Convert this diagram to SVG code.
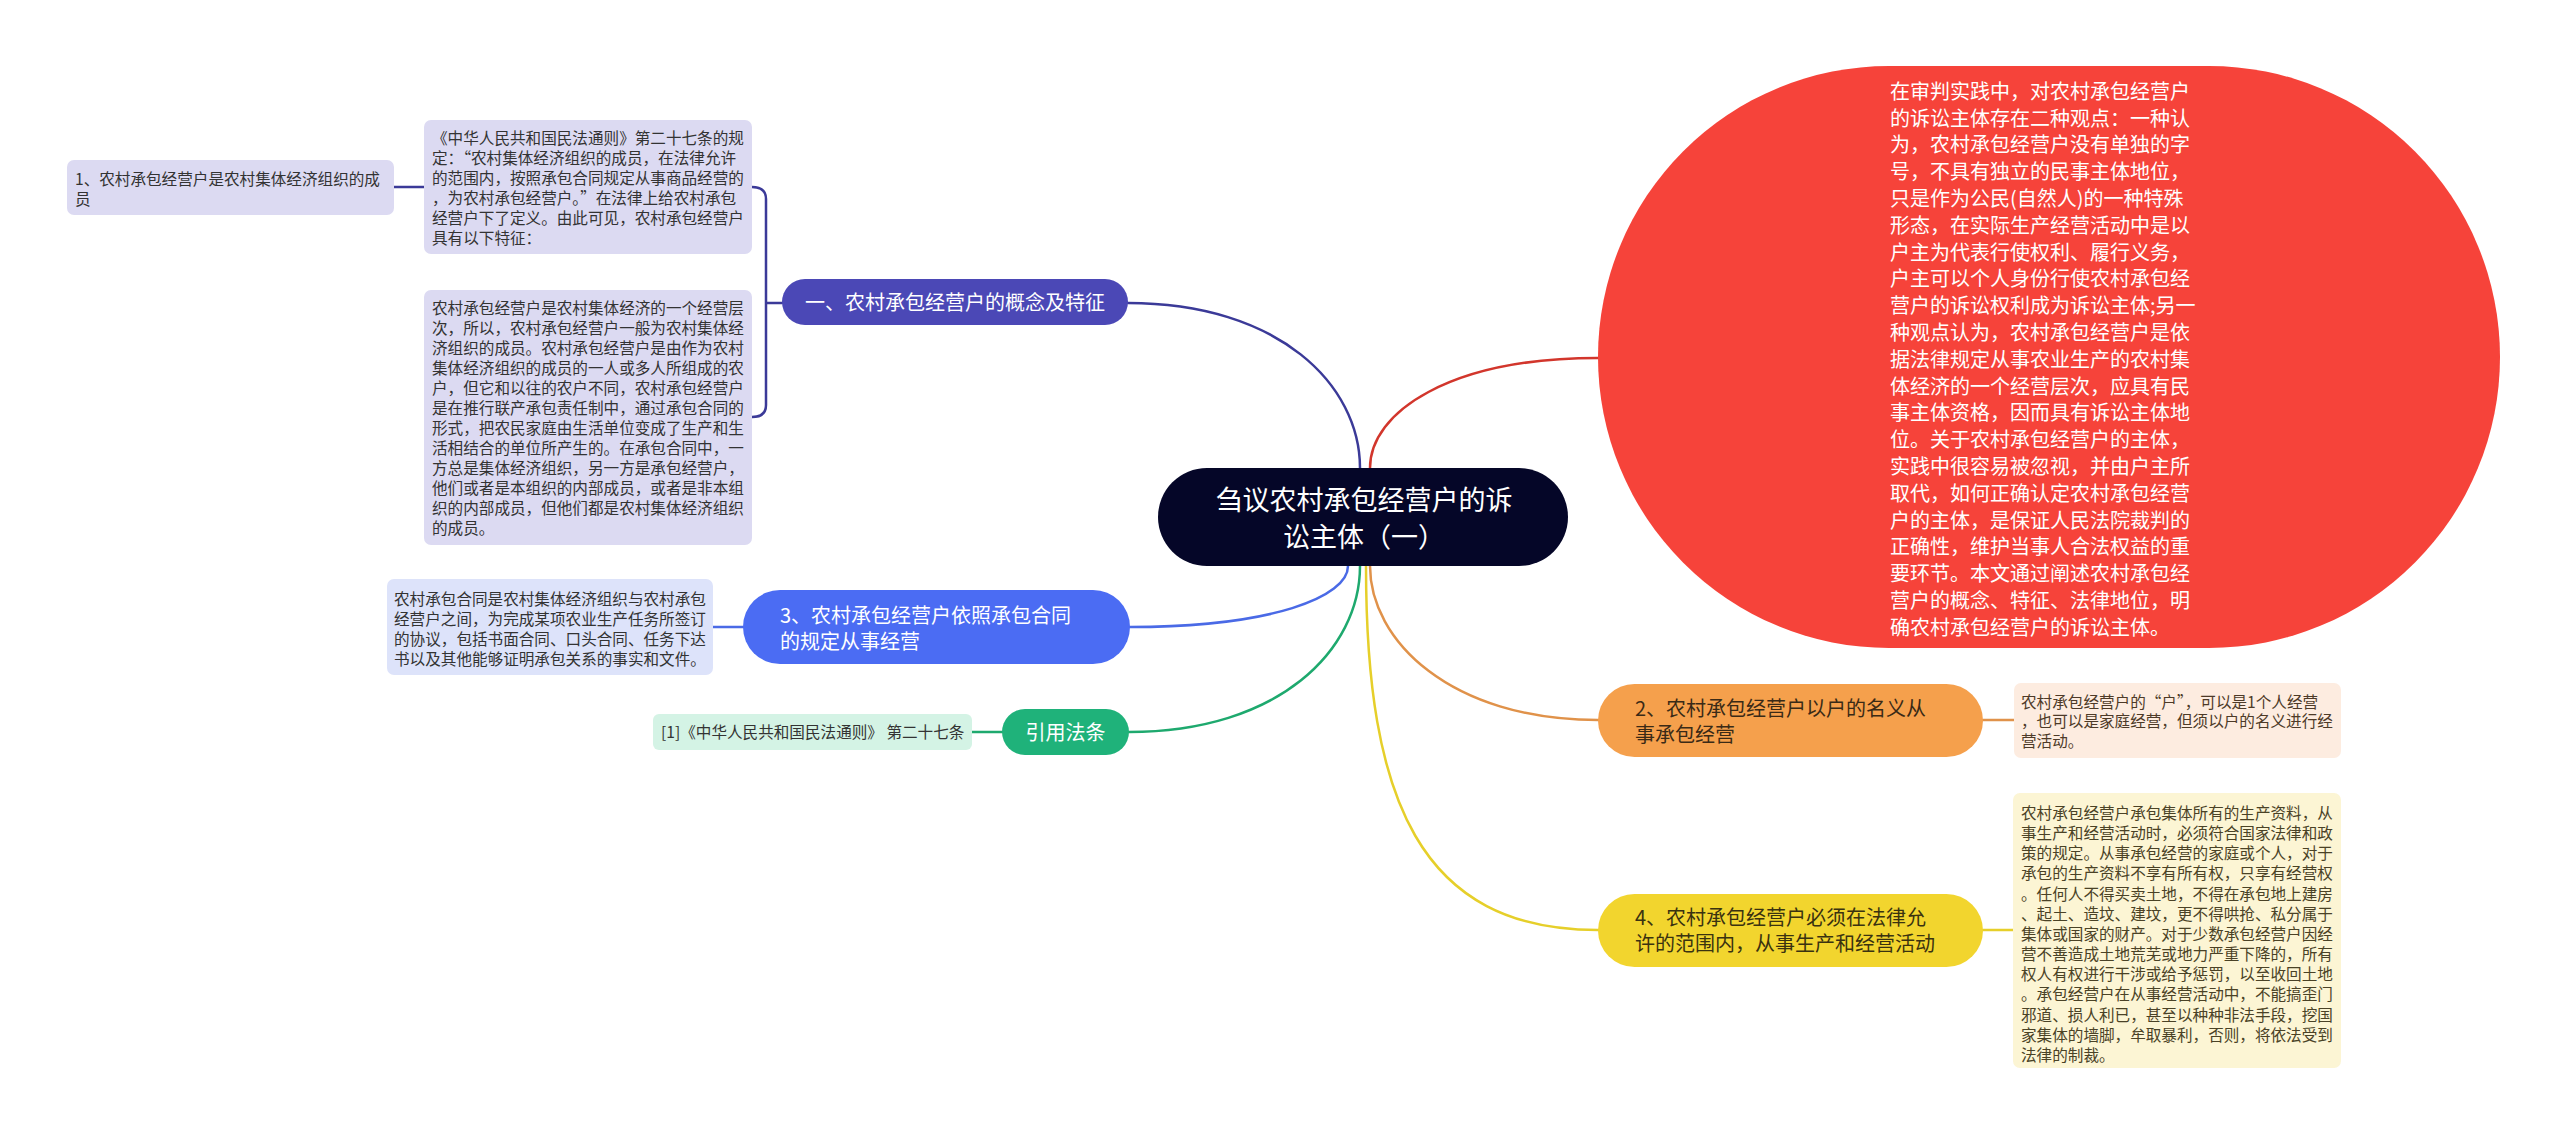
<svg xmlns="http://www.w3.org/2000/svg" width="2560" height="1136" viewBox="0 0 2560 1136">
<style>
text{font-family:"Noto Sans CJK SC","Noto Sans",sans-serif;}
.t16{font-size:15.6px;fill:#333;}
.t20{font-size:20px;}
.w{fill:#fff;}
.c{fill:none;stroke-width:2.5;stroke-linecap:round;}
</style>
<rect width="2560" height="1136" fill="#fff"/>
<g id="connectors">
<path class="c" stroke="#d2362c" d="M1370 468 C1370 412 1450 358 1598 358"/>
<path class="c" stroke="#3b3a98" d="M1360 468 C1360 385 1279 303 1128 303"/>
<path class="c" stroke="#4a6ae6" d="M1348 566 C1348 597 1272 627 1130 627"/>
<path class="c" stroke="#1ea96e" d="M1360 566 C1360 650 1279 732 1129 732"/>
<path class="c" stroke="#e6cf2a" d="M1366 566 C1366 800 1420 930 1598 930"/>
<path class="c" stroke="#e0924a" d="M1370 566 C1370 640 1450 720 1598 720"/>
<path class="c" stroke="#3b3a98" d="M782 303 H766 M766 303 V199 Q766 187 752 187 M766 303 V405 Q766 417 752 417"/>
<path class="c" stroke="#3b3a98" d="M424 187 H394"/>
<path class="c" stroke="#4a6ae6" d="M743 627 H713"/>
<path class="c" stroke="#1ea96e" d="M1002 732 H972"/>
<path class="c" stroke="#e0924a" d="M1983 720 H2014"/>
<path class="c" stroke="#e6cf2a" d="M1983 930 H2013"/>
</g>
<g id="root">
<rect x="1158" y="468" width="410" height="98" rx="49" fill="#050628"/>
<text class="w" font-size="27" text-anchor="middle"><tspan x="1364" y="510">刍议农村承包经营户的诉</tspan><tspan x="1364" y="547">讼主体（一）</tspan></text>
</g>
<g id="intro">
<rect x="1598" y="66" width="902" height="582" rx="291" fill="#f6433a"/>
<text class="t20 w"><tspan x="1890" y="99">在审判实践中，对农村承包经营户</tspan><tspan x="1890" y="126">的诉讼主体存在二种观点：一种认</tspan><tspan x="1890" y="152">为，农村承包经营户没有单独的字</tspan><tspan x="1890" y="179">号，不具有独立的民事主体地位，</tspan><tspan x="1890" y="206">只是作为公民(自然人)的一种特殊</tspan><tspan x="1890" y="233">形态，在实际生产经营活动中是以</tspan><tspan x="1890" y="260">户主为代表行使权利、履行义务，</tspan><tspan x="1890" y="286">户主可以个人身份行使农村承包经</tspan><tspan x="1890" y="313">营户的诉讼权利成为诉讼主体;另一</tspan><tspan x="1890" y="340">种观点认为，农村承包经营户是依</tspan><tspan x="1890" y="367">据法律规定从事农业生产的农村集</tspan><tspan x="1890" y="394">体经济的一个经营层次，应具有民</tspan><tspan x="1890" y="420">事主体资格，因而具有诉讼主体地</tspan><tspan x="1890" y="447">位。关于农村承包经营户的主体，</tspan><tspan x="1890" y="474">实践中很容易被忽视，并由户主所</tspan><tspan x="1890" y="501">取代，如何正确认定农村承包经营</tspan><tspan x="1890" y="528">户的主体，是保证人民法院裁判的</tspan><tspan x="1890" y="554">正确性，维护当事人合法权益的重</tspan><tspan x="1890" y="581">要环节。本文通过阐述农村承包经</tspan><tspan x="1890" y="608">营户的概念、特征、法律地位，明</tspan><tspan x="1890" y="635">确农村承包经营户的诉讼主体。</tspan></text>
</g>
<g id="topic1">
<rect x="782" y="279" width="346" height="46" rx="23" fill="#4b48b6"/>
<text class="t20 w" x="955" y="310" text-anchor="middle">一、农村承包经营户的概念及特征</text>
</g>
<g id="topic1-a">
<rect x="424" y="120" width="328" height="134" rx="7" fill="#dcdaf2"/>
<text class="t16"><tspan x="432" y="144">《中华人民共和国民法通则》第二十七条的规</tspan><tspan x="432" y="164">定：“农村集体经济组织的成员，在法律允许</tspan><tspan x="432" y="184">的范围内，按照承包合同规定从事商品经营的</tspan><tspan x="432" y="204">，为农村承包经营户。”在法律上给农村承包</tspan><tspan x="432" y="224">经营户下了定义。由此可见，农村承包经营户</tspan><tspan x="432" y="244">具有以下特征：</tspan></text>
</g>
<g id="topic1-a1">
<rect x="67" y="160" width="327" height="55" rx="7" fill="#dcdaf2"/>
<text class="t16"><tspan x="75" y="185">1、农村承包经营户是农村集体经济组织的成</tspan><tspan x="75" y="205">员</tspan></text>
</g>
<g id="topic1-b">
<rect x="424" y="290" width="328" height="255" rx="7" fill="#dcdaf2"/>
<text class="t16"><tspan x="432" y="314">农村承包经营户是农村集体经济的一个经营层</tspan><tspan x="432" y="334">次，所以，农村承包经营户一般为农村集体经</tspan><tspan x="432" y="354">济组织的成员。农村承包经营户是由作为农村</tspan><tspan x="432" y="374">集体经济组织的成员的一人或多人所组成的农</tspan><tspan x="432" y="394">户，但它和以往的农户不同，农村承包经营户</tspan><tspan x="432" y="414">是在推行联产承包责任制中，通过承包合同的</tspan><tspan x="432" y="434">形式，把农民家庭由生活单位变成了生产和生</tspan><tspan x="432" y="454">活相结合的单位所产生的。在承包合同中，一</tspan><tspan x="432" y="474">方总是集体经济组织，另一方是承包经营户，</tspan><tspan x="432" y="494">他们或者是本组织的内部成员，或者是非本组</tspan><tspan x="432" y="514">织的内部成员，但他们都是农村集体经济组织</tspan><tspan x="432" y="534">的成员。</tspan></text>
</g>
<g id="topic3">
<rect x="743" y="590" width="387" height="74" rx="37" fill="#4b6cf3"/>
<text class="t20 w"><tspan x="780" y="623">3、农村承包经营户依照承包合同</tspan><tspan x="780" y="649">的规定从事经营</tspan></text>
</g>
<g id="topic3-a">
<rect x="387" y="579" width="326" height="96" rx="7" fill="#dde3fa"/>
<text class="t16"><tspan x="394" y="605">农村承包合同是农村集体经济组织与农村承包</tspan><tspan x="394" y="625">经营户之间，为完成某项农业生产任务所签订</tspan><tspan x="394" y="645">的协议，包括书面合同、口头合同、任务下达</tspan><tspan x="394" y="665">书以及其他能够证明承包关系的事实和文件。</tspan></text>
</g>
<g id="law">
<rect x="1002" y="709" width="127" height="46" rx="23" fill="#1fb27a"/>
<text class="t20 w" x="1065.5" y="739.5" text-anchor="middle">引用法条</text>
</g>
<g id="law-a">
<rect x="653" y="714" width="319" height="36" rx="6" fill="#d4f3e5"/>
<text class="t16" x="661" y="738">[1]《中华人民共和国民法通则》 第二十七条</text>
</g>
<g id="topic2">
<rect x="1598" y="684" width="385" height="73" rx="36.5" fill="#f5a04c"/>
<text class="t20" fill="#3a2a16"><tspan x="1635" y="716">2、农村承包经营户以户的名义从</tspan><tspan x="1635" y="742">事承包经营</tspan></text>
</g>
<g id="topic2-a">
<rect x="2014" y="683" width="327" height="75" rx="7" fill="#fdece0"/>
<text class="t16" fill="#4d3a28" style="fill:#4d3a28"><tspan x="2021" y="708">农村承包经营户的“户”，可以是1个人经营</tspan><tspan x="2021" y="727">，也可以是家庭经营，但须以户的名义进行经</tspan><tspan x="2021" y="747">营活动。</tspan></text>
</g>
<g id="topic4">
<rect x="1598" y="894" width="385" height="73" rx="36.5" fill="#f2d52e"/>
<text class="t20" fill="#3a3210"><tspan x="1635" y="925">4、农村承包经营户必须在法律允</tspan><tspan x="1635" y="951">许的范围内，从事生产和经营活动</tspan></text>
</g>
<g id="topic4-a">
<rect x="2013" y="793" width="328" height="275" rx="7" fill="#fcf5d4"/>
<text class="t16" style="fill:#4a4226"><tspan x="2021" y="819">农村承包经营户承包集体所有的生产资料，从</tspan><tspan x="2021" y="839">事生产和经营活动时，必须符合国家法律和政</tspan><tspan x="2021" y="859">策的规定。从事承包经营的家庭或个人，对于</tspan><tspan x="2021" y="879">承包的生产资料不享有所有权，只享有经营权</tspan><tspan x="2021" y="900">。任何人不得买卖土地，不得在承包地上建房</tspan><tspan x="2021" y="920">、起土、造坟、建坟，更不得哄抢、私分属于</tspan><tspan x="2021" y="940">集体或国家的财产。对于少数承包经营户因经</tspan><tspan x="2021" y="960">营不善造成土地荒芜或地力严重下降的，所有</tspan><tspan x="2021" y="980">权人有权进行干涉或给予惩罚，以至收回土地</tspan><tspan x="2021" y="1000">。承包经营户在从事经营活动中，不能搞歪门</tspan><tspan x="2021" y="1021">邪道、损人利已，甚至以种种非法手段，挖国</tspan><tspan x="2021" y="1041">家集体的墙脚，牟取暴利，否则，将依法受到</tspan><tspan x="2021" y="1061">法律的制裁。</tspan></text>
</g>
</svg>
